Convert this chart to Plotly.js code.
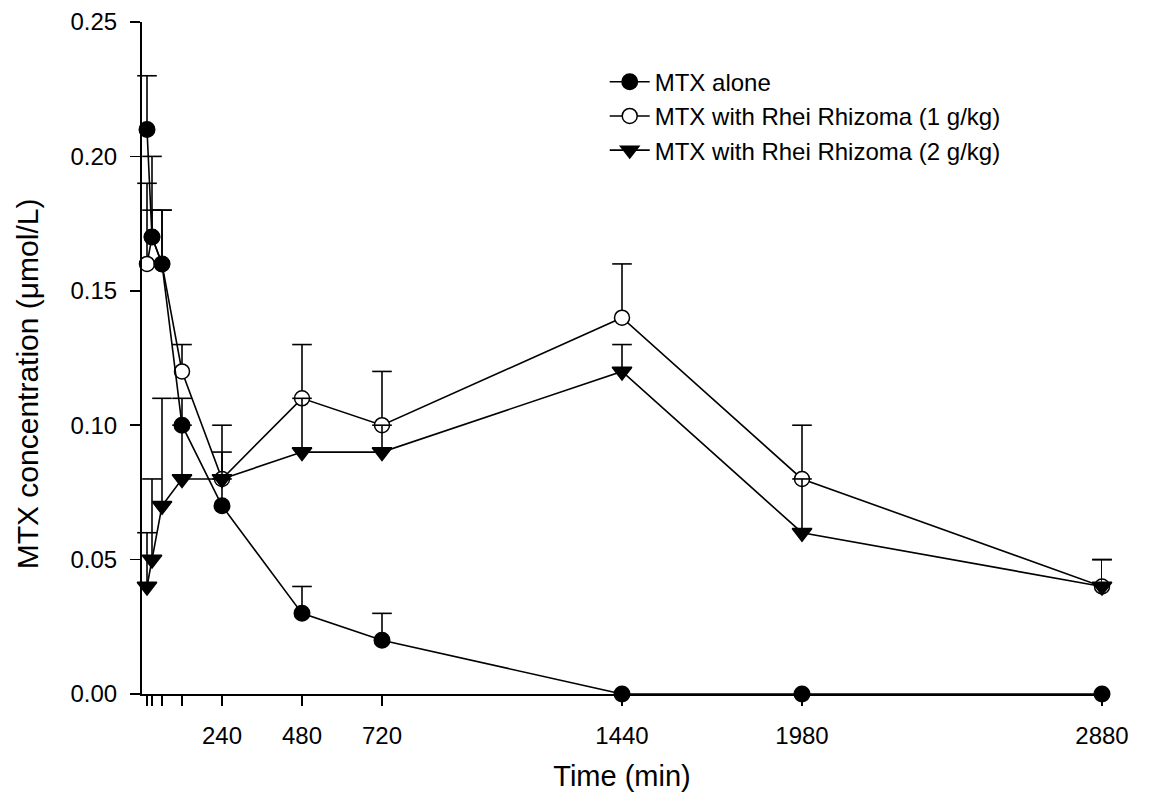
<!DOCTYPE html>
<html>
<head>
<meta charset="utf-8">
<script src="https://cdn.plot.ly/plotly-3.0.1.min.js"></script>
<style>html,body{margin:0;padding:0;background:#fff;}#chart{width:1152px;height:802px;}</style>
</head>
<body>
<div id="chart"></div>
<script>
// Sampling times (min)
const times = [15, 30, 60, 120, 240, 480, 720, 1440, 1980, 2880];
// Tick labels on the time axis (early sampling times are unlabeled ticks)
const timeTickLabels = ['', '', '', '', '240', '480', '720', '1440', '1980', '2880'];

// MTX alone (mean, upper SD)
const mtxAlone = [0.21, 0.17, 0.16, 0.10, 0.07, 0.03, 0.02, 0.00, 0.00, 0.00];
const mtxAloneSD = [0.02, 0.01, 0.02, 0.01, 0.01, 0.01, 0.01, 0, 0, 0];

// MTX with Rhei Rhizoma (1 g/kg)
const rhei1 = [0.16, 0.17, 0.16, 0.12, 0.08, 0.11, 0.10, 0.14, 0.08, 0.04];
const rhei1SD = [0.03, 0.03, 0.02, 0.01, 0.02, 0.02, 0.02, 0.02, 0.02, 0.01];

// MTX with Rhei Rhizoma (2 g/kg)
const rhei2 = [0.04, 0.05, 0.07, 0.08, 0.08, 0.09, 0.09, 0.12, 0.06, 0.04];
const rhei2SD = [0.02, 0.03, 0.04, 0.02, 0.01, 0.02, 0.01, 0.01, 0.02, 0.01];

const seriesNames = ['MTX alone', 'MTX with Rhei Rhizoma (1 g/kg)', 'MTX with Rhei Rhizoma (2 g/kg)'];
const xTitle = 'Time (min)';
const yTitle = 'MTX concentration (μmol/L)';

const FONT = 'Arial, "Liberation Sans", Helvetica, sans-serif';
const LW = 1.6;

// upper-only error bars: a stem from the mean to mean+SD, and a cap at mean+SD
function errorTraces(x, y, sd) {
  const sx = [], sy = [], cx = [], cy = [];
  for (let i = 0; i < x.length; i++) {
    if (!(sd[i] > 0)) continue;
    sx.push(x[i], x[i], null);
    sy.push(y[i], y[i] + sd[i], null);
    cx.push(x[i]);
    cy.push(y[i] + sd[i]);
  }
  return [
    {x: sx, y: sy, mode: 'lines', line: {color: '#000', width: LW}, showlegend: false, hoverinfo: 'skip', cliponaxis: false},
    {x: cx, y: cy, mode: 'markers', marker: {symbol: 'line-ew', size: 14, color: '#000', line: {color: '#000', width: LW}}, showlegend: false, hoverinfo: 'skip', cliponaxis: false}
  ];
}

function seriesTrace(y, name, symbol, fill, size, rank) {
  return {
    x: times, y: y, name: name, mode: 'lines+markers', legendrank: rank,
    line: {color: '#000', width: LW},
    marker: {symbol: symbol, size: size, color: fill, line: {color: '#000', width: 1.5}},
    cliponaxis: false
  };
}

const data = [].concat(
  errorTraces(times, rhei1, rhei1SD),
  [seriesTrace(rhei1, seriesNames[1], 'circle', '#fff', 15, 2)],
  errorTraces(times, mtxAlone, mtxAloneSD),
  [seriesTrace(mtxAlone, seriesNames[0], 'circle', '#000', 15.5, 1)],
  errorTraces(times, rhei2, rhei2SD),
  [seriesTrace(rhei2, seriesNames[2], 'triangle-down', '#000', 17, 3)]
);

const layout = {
  width: 1152, height: 802,
  margin: {l: 142, r: 50, t: 22, b: 108, pad: 0},
  paper_bgcolor: '#fff', plot_bgcolor: '#fff',
  font: {family: FONT, color: '#000', size: 24},
  showlegend: true,
  legend: {
    x: 0.482, y: 0.944, xanchor: 'left', yanchor: 'top',
    bgcolor: 'rgba(0,0,0,0)', borderwidth: 0,
    font: {family: FONT, size: 24, color: '#000'},
    itemwidth: 40, traceorder: 'normal'
  },
  xaxis: {
    range: [0, 2880],
    tickmode: 'array', tickvals: times, ticktext: timeTickLabels,
    ticks: 'outside', ticklen: 10, tickwidth: 1.5, tickcolor: '#000',
    showline: true, linecolor: '#000', linewidth: 2,
    showgrid: false, zeroline: false,
    tickfont: {family: FONT, size: 24, color: '#000'},
    ticklabelstandoff: 9,
    title: {text: xTitle, font: {family: FONT, size: 29, color: '#000'}, standoff: 18}
  },
  yaxis: {
    range: [0, 0.25],
    tickmode: 'linear', tick0: 0, dtick: 0.05, tickformat: '.2f',
    ticks: 'outside', ticklen: 10, tickwidth: 1.5, tickcolor: '#000',
    showline: true, linecolor: '#000', linewidth: 2,
    showgrid: false, zeroline: false,
    tickfont: {family: FONT, size: 24, color: '#000'},
    ticklabelstandoff: 8
  },
  annotations: [{
    text: yTitle, textangle: -90, showarrow: false,
    xref: 'paper', yref: 'paper', x: -0.119, y: 0.462,
    xanchor: 'center', yanchor: 'middle',
    font: {family: FONT, size: 30, color: '#000'}
  }]
};

Plotly.newPlot('chart', data, layout, {displayModeBar: false, staticPlot: true});
</script>
</body>
</html>
